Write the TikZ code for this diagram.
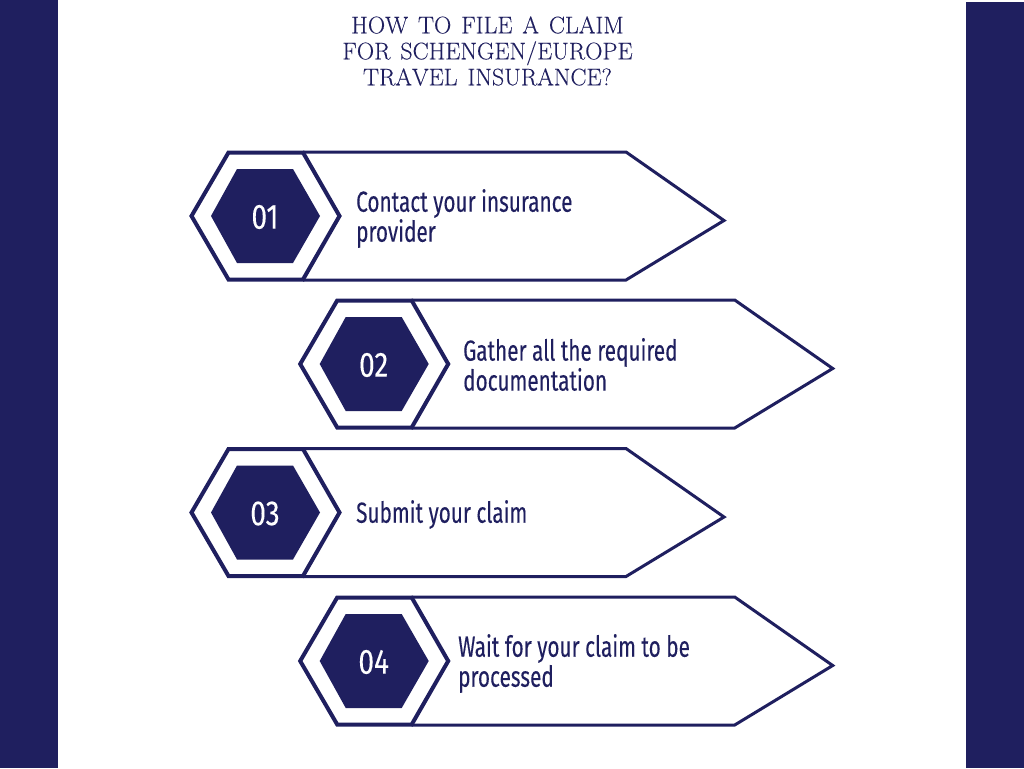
\documentclass[tikz,border=0pt]{standalone}
\usepackage{fontspec}
\newfontfamily\bodyfont[FakeStretch=0.716,FakeBold=0.15]{Fira Sans}
\newfontfamily\numfont[FakeStretch=0.8,FakeBold=0.1]{Fira Sans}
\newfontfamily\titlefont[Kerning=Off,FakeBold=0.15,WordSpace=1.37]{Latin Modern Roman}
\definecolor{navy}{HTML}{1F1F5F}
\tikzset{
  x=1pt,y=-1pt,
  arrowline/.style={draw=navy,line width=3pt,line join=miter,fill=white},
  hexline/.style={draw=navy,line width=4pt,line join=miter,fill=white},
  bodytext/.style={text=navy,font=\bodyfont\fontsize{29}{30}\selectfont,anchor=west,align=left,inner sep=0pt},
  numtext/.style={text=white,font=\numfont\fontsize{35}{35}\selectfont,inner sep=0pt},
  titletext/.style={text=navy,font=\titlefont\fontsize{24}{26}\selectfont,align=center,inner sep=0pt},
  pics/step item/.style n args={2}{code={
    \draw[arrowline] (303,152) -- (626,152) -- (724,220.5) -- (626,280) -- (303,280);
    \draw[hexline] (191.5,216) -- (228.5,152.5) -- (303,152.5) -- (339.5,216) -- (303,279.5) -- (228.5,279.5) -- cycle;
    \fill[navy] (211,216) -- (237,169) -- (293,169) -- (320,216) -- (293,263) -- (237,263) -- cycle;
    \node[numtext] (num#1) at (265,217) {#2};
  }}
}
\begin{document}
\begin{tikzpicture}
\useasboundingbox (0,0) rectangle (1024,768);
\fill[navy] (0,0) rectangle (57.5,768);
\fill[navy] (966,2) rectangle (1024,768);
\node[titletext] (title) at (487.5,51) {HOW TO FILE A CLAIM\\FOR SCHENGEN/EUROPE\\TRAVEL INSURANCE?};
\pic at (0,0) {step item={a}{01}};
\pic at (108.7,148) {step item={b}{02}};
\pic at (0,296.5) {step item={c}{03}};
\pic at (108.7,445) {step item={d}{04}};
\node[bodytext] (t1) at (356,218.5) {Contact your insurance\\provider};
\node[bodytext] (t2) at (463,364.5) {Gather all the required\\documentation};
\node[bodytext] (t3) at (356,514.5) {Submit your claim};
\node[bodytext] (t4) at (458,663.5) {Wait for your claim to be\\processed};
\end{tikzpicture}
\end{document}
